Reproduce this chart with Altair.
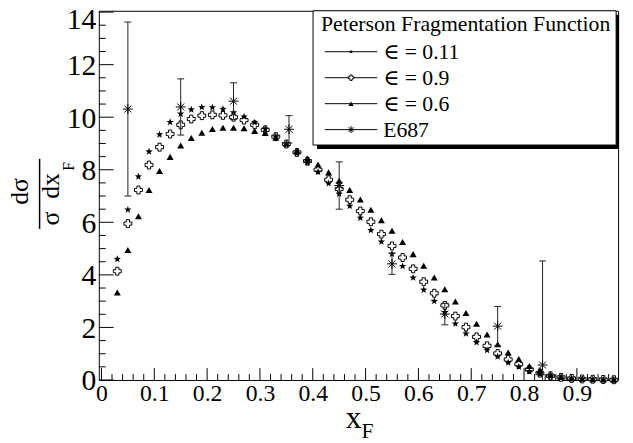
import math
import altair as alt
import pandas as pd

# ---------------- data ----------------
x_centers = [0.03, 0.05, 0.07, 0.09, 0.11, 0.13, 0.15, 0.17, 0.19, 0.21, 0.23, 0.25,
             0.27, 0.29, 0.31, 0.33, 0.35, 0.37, 0.39, 0.41, 0.43, 0.45, 0.47, 0.49,
             0.51, 0.53, 0.55, 0.57, 0.59, 0.61, 0.63, 0.65, 0.67, 0.69, 0.71, 0.73,
             0.75, 0.77, 0.79, 0.81, 0.83, 0.85, 0.87, 0.89, 0.91, 0.93, 0.95, 0.97]
eps_011 = [4.60, 6.48, 7.74, 8.69, 9.34, 9.81, 10.13, 10.29, 10.38, 10.37, 10.31, 10.18,
           10.02, 9.80, 9.55, 9.26, 8.96, 8.62, 8.27, 7.92, 7.48, 7.08, 6.62, 6.17,
           5.70, 5.26, 4.80, 4.33, 3.89, 3.43, 3.00, 2.58, 2.14, 1.76, 1.43, 1.14,
           0.89, 0.66, 0.50, 0.33, 0.22, 0.14, 0.08, 0.05, 0.03, 0.02, 0.01, 0.01]
eps_09 = [4.14, 5.95, 7.23, 8.18, 8.86, 9.36, 9.71, 9.93, 10.06, 10.09, 10.07, 10.00,
          9.89, 9.71, 9.52, 9.26, 8.98, 8.66, 8.33, 8.00, 7.62, 7.27, 6.86, 6.43,
          6.02, 5.55, 5.10, 4.66, 4.23, 3.74, 3.30, 2.84, 2.43, 2.01, 1.64, 1.30,
          1.01, 0.78, 0.60, 0.40, 0.26, 0.16, 0.10, 0.06, 0.04, 0.03, 0.02, 0.01]
eps_06 = [3.33, 4.95, 6.23, 7.23, 7.95, 8.49, 8.92, 9.21, 9.41, 9.55, 9.60, 9.60,
          9.58, 9.48, 9.40, 9.22, 9.00, 8.72, 8.43, 8.20, 7.90, 7.58, 7.23, 6.87,
          6.48, 6.08, 5.68, 5.25, 4.79, 4.35, 3.90, 3.45, 2.99, 2.55, 2.14, 1.73,
          1.36, 1.05, 0.80, 0.53, 0.37, 0.20, 0.12, 0.07, 0.05, 0.03, 0.02, 0.01]
e687_x = [0.05, 0.15, 0.25, 0.355, 0.45, 0.55, 0.65, 0.75, 0.835]
e687_y = [10.31, 10.39, 10.61, 9.54, 7.40, 4.42, 2.51, 2.05, 0.57]
e687_err = [3.31, 1.07, 0.70, 0.52, 0.90, 0.40, 0.41, 0.75, 3.96]

legend_title = "Peterson Fragmentation Function"
legend_labels = ["\u2208 = 0.11", "\u2208 = 0.9", "\u2208 = 0.6", "E687"]

x_major = [0.0, 0.1, 0.2, 0.3, 0.4, 0.5, 0.6, 0.7, 0.8, 0.9]
x_minor = [round(0.02 * i, 2) for i in range(49) if i % 5 != 0]
y_major = [0, 2, 4, 6, 8, 10, 12, 14]
y_minor = [0.5 * i for i in range(29) if i % 4 != 0]

# ---------------- styling ----------------
FONT = "Liberation Serif, Times New Roman, Times, DejaVu Serif, serif"
W, H = 526, 374

xs = alt.Scale(domain=[-0.005, 0.978], nice=False, zero=False)
ys = alt.Scale(domain=[0, 14.05], nice=False, zero=False)
xaxis = alt.Axis(values=x_major, format=".1~f", title=None, labelFontSize=24,
                 labelPadding=2, labelFlush=False, labelOverlap=False)
yaxis = alt.Axis(values=y_major, format="d", title=None, labelFontSize=30,
                 labelPadding=3, labelOverlap=False,
                 labelOffset={"condition": {"test": "datum.value === 14", "value": 8}, "value": 1})


def X(f):
    return alt.X(f, type="quantitative", scale=xs, axis=xaxis)


def Y(f):
    return alt.Y(f, type="quantitative", scale=ys, axis=yaxis)


pts = []
for k in range(10):
    a = math.radians(-90 + 36 * k)
    r = 1.0 if k % 2 == 0 else 0.42
    pts.append(f"{r * math.cos(a):.3f},{r * math.sin(a):.3f}")
STAR = "M" + "L".join(pts) + "Z"
ASTER = "M-1,0L1,0M0,-1L0,1M-0.7,-0.7L0.7,0.7M-0.7,0.7L0.7,-0.7"

one = pd.DataFrame({"k": [0]})

# ---------------- ticks (inside) ----------------
xmaj = alt.Chart(pd.DataFrame({"v": x_major})).mark_rule(color="black").encode(
    x=X("v"), y=alt.value(H), y2=alt.value(H - 12))
xmin = alt.Chart(pd.DataFrame({"v": x_minor})).mark_rule(color="black").encode(
    x=X("v"), y=alt.value(H), y2=alt.value(H - 6))
ymaj = alt.Chart(pd.DataFrame({"v": y_major})).mark_rule(color="black").encode(
    y=Y("v"), x=alt.value(0), x2=alt.value(15))
ymin = alt.Chart(pd.DataFrame({"v": y_minor})).mark_rule(color="black").encode(
    y=Y("v"), x=alt.value(0), x2=alt.value(7))

# ---------------- series ----------------
df = pd.DataFrame({"x": x_centers, "a": eps_011, "b": eps_09, "c": eps_06})

cross_l = alt.Chart(df).mark_point(shape="cross", filled=True, fill="white", stroke="black",
                                   strokeWidth=1, size=64, opacity=1).encode(x=X("x"), y=Y("b"))
star_l = alt.Chart(df).mark_point(shape=STAR, filled=True, fill="black", strokeWidth=0,
                                  size=60, opacity=1).encode(x=X("x"), y=Y("a"))
tri_l = alt.Chart(df).mark_point(shape="triangle-up", filled=True, fill="black", strokeWidth=0,
                                 size=50, opacity=1).encode(x=X("x"), y=Y("c"))

edf = pd.DataFrame({"x": e687_x, "y": e687_y,
                    "lo": [v - e for v, e in zip(e687_y, e687_err)],
                    "hi": [v + e for v, e in zip(e687_y, e687_err)]})
ebar = alt.Chart(edf).mark_rule(color="#222", clip=True).encode(x=X("x"), y=Y("lo"), y2="hi")
ecap_hi = alt.Chart(edf).mark_rule(color="#222", clip=True, xOffset=-3.5, x2Offset=3.5).encode(
    x=X("x"), x2="x", y=Y("hi"))
ecap_lo = alt.Chart(edf).mark_rule(color="#222", clip=True, xOffset=-3.5, x2Offset=3.5).encode(
    x=X("x"), x2="x", y=Y("lo"))
emark = alt.Chart(edf).mark_point(shape=ASTER, filled=False, stroke="black", strokeWidth=1,
                                  size=100, opacity=1).encode(x=X("x"), y=Y("y"))

# ---------------- legend ----------------
lx0, lx1, ly0, ly1 = 217, 524, 0, 136
shadow = alt.Chart(one).mark_rect(fill="black").encode(
    x=alt.value(lx0 + 4), x2=alt.value(lx1 + 3), y=alt.value(ly0 + 4), y2=alt.value(ly1 + 4))
box = alt.Chart(one).mark_rect(fill="white", stroke="black", strokeWidth=1).encode(
    x=alt.value(lx0), x2=alt.value(lx1), y=alt.value(ly0), y2=alt.value(ly1))
ltitle = alt.Chart(pd.DataFrame({"t": [legend_title]})).mark_text(
    font=FONT, fontSize=22, align="left", baseline="alphabetic", color="black").encode(
    x=alt.value(lx0 + 8), y=alt.value(20), text="t:N")

legend_layers = []
leg_shapes = [dict(shape=STAR, filled=True, fill="black", strokeWidth=0, size=22),
              dict(shape="cross", filled=True, fill="white", stroke="black", strokeWidth=1, size=30),
              dict(shape="triangle-up", filled=True, fill="black", strokeWidth=0, size=28),
              dict(shape=ASTER, filled=False, stroke="black", strokeWidth=1, size=50)]
for i, lab in enumerate(legend_labels):
    yy = 41.5 + 26.3 * i
    legend_layers.append(alt.Chart(one).mark_rule(color="black").encode(
        x=alt.value(229), x2=alt.value(282), y=alt.value(yy)))
    legend_layers.append(alt.Chart(one).mark_point(opacity=1, **leg_shapes[i]).encode(
        x=alt.value(255.5), y=alt.value(yy)))
    legend_layers.append(alt.Chart(pd.DataFrame({"t": [lab]})).mark_text(
        font=FONT, fontSize=22, align="left", baseline="alphabetic", color="black").encode(
        x=alt.value(288), y=alt.value(yy + 7.5), text="t:N"))

# ---------------- axis titles ----------------
def txt(s, x, y, size, angle=0, align="center"):
    kw = dict(font=FONT, fontSize=size, align=align, baseline="alphabetic", color="black")
    if angle:
        kw["angle"] = angle
    return alt.Chart(pd.DataFrame({"t": [s]})).mark_text(**kw).encode(
        x=alt.value(x), y=alt.value(y), text="t:N")


xt = txt("x", 258, 423, 32)
xtF = txt("F", 266, 433, 22, align="left")
yt_num = txt("d\u03c3", -72, 183, 26, angle=270)
yt_den = txt("\u03c3\u2002dx", -40, 191, 26, angle=270)
yt_F = txt("F", -25, 162, 16, angle=270, align="left")
frac = alt.Chart(one).mark_rule(color="black", strokeWidth=1.5).encode(
    x=alt.value(-60), y=alt.value(150), y2=alt.value(221))

chart = alt.layer(
    xmin, xmaj, ymin, ymaj,
    cross_l, star_l, tri_l,
    ebar, ecap_hi, ecap_lo, emark,
    shadow, box, ltitle, *legend_layers,
    xt, xtF, yt_num, yt_den, yt_F, frac,
).properties(
    width=W, height=H,
    autosize=alt.AutoSizeParams(type="none"),
    padding={"left": 92, "top": 0, "right": 7, "bottom": 60},
    background="white",
).configure_view(
    stroke="black", strokeWidth=1,
).configure_axis(
    grid=False, domain=False, ticks=False, labelFont=FONT, labelColor="black",
)

chart.save("out.html", embed_options={"renderer": "svg", "actions": False})
